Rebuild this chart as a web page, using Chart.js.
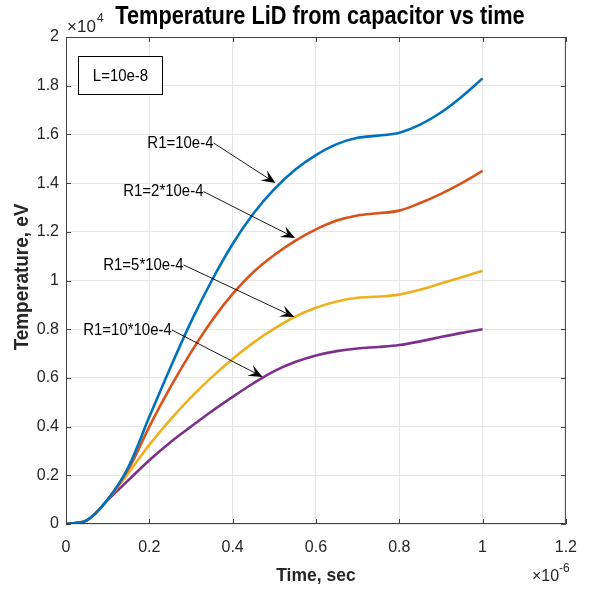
<!DOCTYPE html>
<html>
<head>
<meta charset="utf-8">
<script src="https://cdn.jsdelivr.net/npm/chart.js@4"></script>
<style>
  body { margin: 0; background: #fff; }
  #wrap { width: 591px; height: 589px; }
</style>
</head>
<body>
<div id="wrap"><canvas id="tempChart" width="591" height="589"></canvas></div>
<script>
// Dados (tempo em 1e-6 s, temperatura em 1e4 eV)
const time = [0, 0.05, 0.1, 0.15, 0.2, 0.25, 0.3, 0.35, 0.4, 0.45, 0.5, 0.55, 0.6, 0.65, 0.7, 0.75, 0.8, 0.85, 0.9, 0.95, 1.0];
const tempR1 = [0, 0.015, 0.1, 0.235, 0.44, 0.64, 0.83, 1.0, 1.15, 1.275, 1.375, 1.455, 1.515, 1.56, 1.586, 1.595, 1.607, 1.64, 1.69, 1.755, 1.83];
const tempR2 = [0, 0.015, 0.1, 0.225, 0.40, 0.56, 0.705, 0.835, 0.945, 1.035, 1.105, 1.163, 1.21, 1.246, 1.267, 1.276, 1.287, 1.318, 1.356, 1.40, 1.45];
const tempR5 = [0, 0.015, 0.1, 0.21, 0.325, 0.428, 0.52, 0.603, 0.678, 0.745, 0.802, 0.851, 0.888, 0.914, 0.929, 0.934, 0.942, 0.962, 0.988, 1.013, 1.04];
const tempR10 = [0, 0.015, 0.098, 0.18, 0.262, 0.335, 0.40, 0.463, 0.522, 0.578, 0.628, 0.665, 0.692, 0.71, 0.721, 0.727, 0.735, 0.75, 0.768, 0.785, 0.80];

const seriesNames = ['R1=10e-4', 'R1=2*10e-4', 'R1=5*10e-4', 'R1=10*10e-4'];
const seriesColors = ['#0072BD', '#D95319', '#EDB120', '#7E2F8E'];

const xTicks = [0, 0.2, 0.4, 0.6, 0.8, 1, 1.2];
const yTicks = [0, 0.2, 0.4, 0.6, 0.8, 1, 1.2, 1.4, 1.6, 1.8, 2];

// Anotações: texto termina em (tx, ty), seta aponta para (ax, ay) - coordenadas de dados
const labelTextX = [0.354, 0.33, 0.282, 0.254];
const labelTextY = [1.565, 1.365, 1.064, 0.797];
const arrowTipX = [0.503, 0.55, 0.548, 0.472];
const arrowTipY = [1.40, 1.175, 0.85, 0.604];

const FONT = '"Liberation Sans", Arial, sans-serif';

const allTemps = [tempR1, tempR2, tempR5, tempR10];
const datasets = allTemps.map((vals, i) => ({
    label: seriesNames[i],
    data: time.map((t, k) => ({ x: t, y: vals[k] })),
    borderColor: seriesColors[i],
    backgroundColor: seriesColors[i],
    borderWidth: 2.6,
    pointRadius: 0,
    tension: 0.35,
    fill: false
}));

// texto "estreito" (a fonte do MATLAB é mais condensada)
function narrowText(c, txt, x, y, sx, align) {
    c.save();
    c.translate(x, y);
    c.scale(sx, 1);
    c.textAlign = align;
    c.fillText(txt, 0, 0);
    c.restore();
}

// Plugin para título, rótulos dos eixos, caixa, setas e ticks internos (estilo MATLAB)
const matlabDecor = {
    id: 'matlabDecor',
    afterDraw(chart) {
        const c = chart.ctx;
        const a = chart.chartArea;
        const xs = chart.scales.x, ys = chart.scales.y;
        c.save();

        // moldura e ticks internos
        c.strokeStyle = '#404040';
        c.lineWidth = 1;
        c.strokeRect(a.left + 0.5, a.top + 0.5, a.right - a.left - 1, a.bottom - a.top - 1);
        c.beginPath();
        xTicks.forEach(v => {
            const px = Math.round(xs.getPixelForValue(v)) + 0.5;
            c.moveTo(px, a.bottom); c.lineTo(px, a.bottom - 5);
            c.moveTo(px, a.top); c.lineTo(px, a.top + 5);
        });
        yTicks.forEach(v => {
            const py = Math.round(ys.getPixelForValue(v)) + 0.5;
            c.moveTo(a.left, py); c.lineTo(a.left + 5, py);
            c.moveTo(a.right, py); c.lineTo(a.right - 5, py);
        });
        c.stroke();

        // título
        c.fillStyle = '#000';
        c.textBaseline = 'middle';
        c.font = 'bold 25px ' + FONT;
        narrowText(c, 'Temperature LiD from capacitor vs time', 320, 17, 0.87, 'center');

        // rótulos dos eixos
        c.fillStyle = '#262626';
        c.font = 'bold 19px ' + FONT;
        narrowText(c, 'Time, sec', (a.left + a.right) / 2, 576, 0.92, 'center');
        c.save();
        c.translate(22, 277);
        c.rotate(-Math.PI / 2);
        c.font = 'bold 21px ' + FONT;
        narrowText(c, 'Temperature, eV', 0, 0, 0.9, 'center');
        c.restore();

        // expoentes
        c.font = '17px ' + FONT;
        narrowText(c, '\u00d710', 67, 27, 1, 'left');
        c.font = '12px ' + FONT;
        narrowText(c, '4', 97, 19, 1, 'left');
        c.font = '16px ' + FONT;
        narrowText(c, '\u00d710', 532, 577, 1, 'left');
        c.font = '12px ' + FONT;
        narrowText(c, '-6', 559, 569, 1, 'left');

        // caixa L=10e-8
        c.strokeStyle = '#000';
        c.lineWidth = 1;
        c.fillStyle = '#fff';
        c.fillRect(78.5, 56.5, 84, 38);
        c.strokeRect(78.5, 56.5, 84, 38);
        c.fillStyle = '#000';
        c.font = '17px ' + FONT;
        narrowText(c, 'L=10e-8', 120.5, 76, 0.88, 'center');

        // setas com texto
        seriesNames.forEach((name, i) => {
            const x0 = xs.getPixelForValue(labelTextX[i]);
            const y0 = ys.getPixelForValue(labelTextY[i]);
            const x1 = xs.getPixelForValue(arrowTipX[i]);
            const y1 = ys.getPixelForValue(arrowTipY[i]);
            c.fillStyle = '#000';
            c.font = '17px ' + FONT;
            narrowText(c, name, x0, y0, 0.88, 'right');
            const ang = Math.atan2(y1 - y0, x1 - x0);
            const L = 14, W = 6;
            c.strokeStyle = '#000';
            c.lineWidth = 0.9;
            c.beginPath();
            c.moveTo(x0, y0);
            c.lineTo(x1 - Math.cos(ang) * 8, y1 - Math.sin(ang) * 8);
            c.stroke();
            const bx = x1 - Math.cos(ang) * L, by = y1 - Math.sin(ang) * L;
            const nx = -Math.sin(ang), ny = Math.cos(ang);
            const mx = x1 - Math.cos(ang) * L * 0.6, my = y1 - Math.sin(ang) * L * 0.6;
            c.beginPath();
            c.moveTo(x1, y1);
            c.lineTo(bx + nx * W, by + ny * W);
            c.lineTo(mx, my);
            c.lineTo(bx - nx * W, by - ny * W);
            c.closePath();
            c.fill();
        });
        c.restore();
    }
};

const ctx = document.getElementById('tempChart').getContext('2d');
const tempChart = new Chart(ctx, {
    type: 'line',
    data: { datasets: datasets },
    options: {
        responsive: false,
        animation: false,
        layout: { padding: { top: 37, right: 19, left: 0, bottom: 0 } },
        plugins: { legend: { display: false }, tooltip: { enabled: false }, title: { display: false } },
        scales: {
            x: {
                type: 'linear',
                min: 0, max: 1.2,
                afterBuildTicks: s => { s.ticks = xTicks.map(v => ({ value: v })); },
                afterFit: s => { s.height = 65; },
                grid: { color: '#e6e6e6', drawTicks: false, lineWidth: 1 },
                border: { display: false },
                ticks: {
                    color: '#262626', padding: 14,
                    font: { family: FONT, size: 16 },
                    callback: v => String(v)
                }
            },
            y: {
                type: 'linear',
                min: 0, max: 2,
                afterBuildTicks: s => { s.ticks = yTicks.map(v => ({ value: v })); },
                afterFit: s => { s.width = 66; },
                grid: { color: '#e6e6e6', drawTicks: false, lineWidth: 1 },
                border: { display: false },
                ticks: {
                    color: '#262626', padding: 7,
                    font: { family: FONT, size: 16 },
                    callback: v => String(v)
                }
            }
        }
    },
    plugins: [matlabDecor]
});
</script>
</body>
</html>
